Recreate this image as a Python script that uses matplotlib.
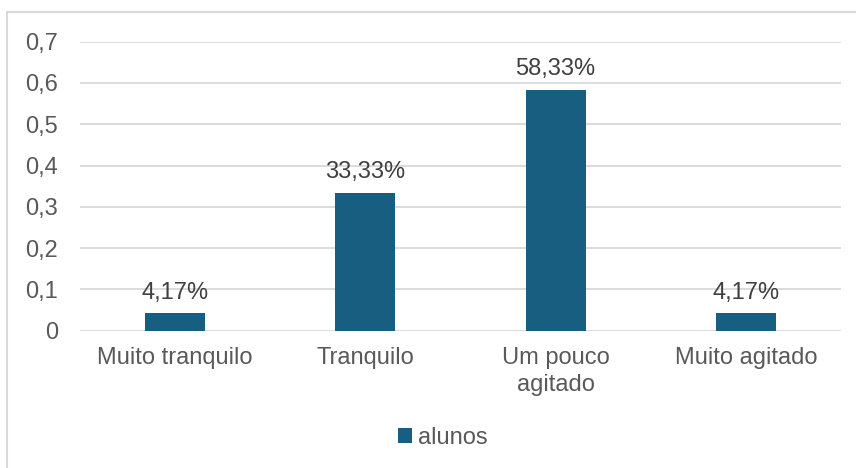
import matplotlib.pyplot as plt
from matplotlib.patches import Rectangle

plt.rcParams['font.family'] = ['Liberation Sans', 'DejaVu Sans']

categories = ['Muito tranquilo', 'Tranquilo', 'Um pouco\nagitado', 'Muito agitado']
alunos = [0.0417, 0.3333, 0.5833, 0.0417]
labels = ['4,17%', '33,33%', '58,33%', '4,17%']
yticks = [0, 0.1, 0.2, 0.3, 0.4, 0.5, 0.6, 0.7]
ytick_labels = ['0', '0,1', '0,2', '0,3', '0,4', '0,5', '0,6', '0,7']

BAR = '#175E80'
TXT = '#595959'
GRID = '#D9D9D9'
FS = 17

fig = plt.figure(figsize=(8.56, 4.68), dpi=100)
ax = fig.add_axes([80 / 856, 1 - 330.7 / 468, 761 / 856, 289 / 468])

# outer frame (only top and left are visible in the original)
fig.patches.append(Rectangle((7 / 856, -0.1), 1.2, (468 - 12) / 468 + 0.1,
                             transform=fig.transFigure, fill=False,
                             edgecolor=GRID, linewidth=1.5))

x = range(len(categories))
bars = ax.bar(x, alunos, width=0.316, color=BAR, label='alunos', zorder=3)

for xi, v, lab in zip(x, alunos, labels):
    ax.annotate(lab, (xi, v), xytext=(0, 7), textcoords='offset points',
                ha='center', va='bottom', fontsize=FS, color='#404040')

ax.set_xlim(-0.5, 3.5)
ax.set_ylim(0, 0.7)
ax.set_yticks(yticks)
ax.set_yticklabels(ytick_labels)
ax.set_xticks(list(x))
ax.set_xticklabels(categories, linespacing=1.3)
ax.tick_params(axis='both', length=0, labelsize=FS, labelcolor=TXT)
ax.tick_params(axis='y', pad=16)
ax.tick_params(axis='x', pad=12)

ax.grid(axis='y', color=GRID, linewidth=1.3, zorder=0)
for s in ax.spines.values():
    s.set_visible(False)

fig.legend(handles=[bars], labels=['alunos'], loc='center',
           bbox_to_anchor=(443 / 856, 1 - 438 / 468), frameon=False,
           fontsize=FS, labelcolor=TXT, handlelength=0.6, handleheight=0.6,
           handletextpad=0.25)

fig.savefig('out.png', dpi=100, facecolor='white')
